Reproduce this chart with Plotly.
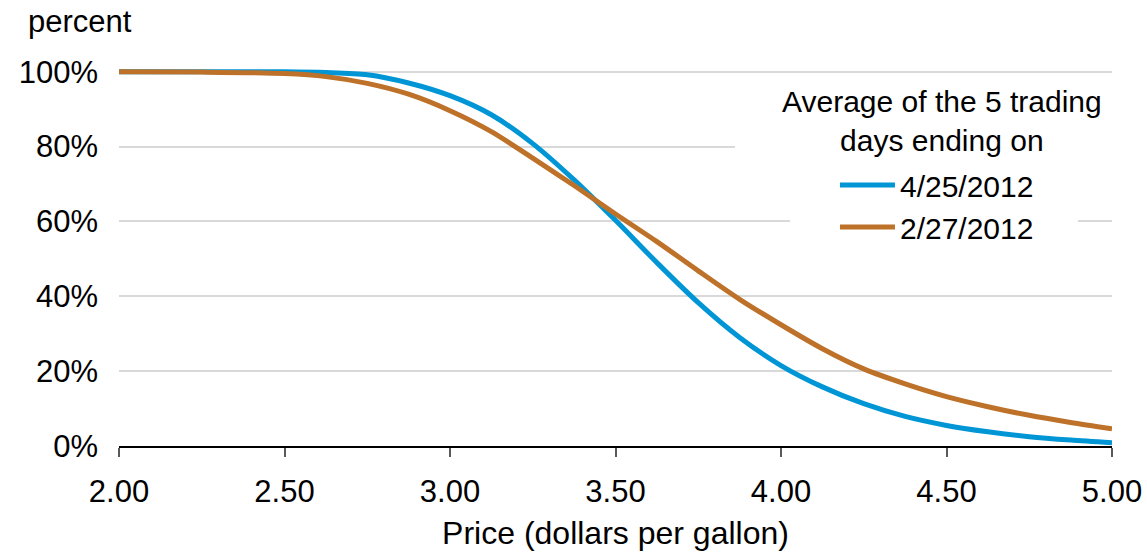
import plotly.graph_objects as go

price = [2.0, 2.25, 2.5, 2.625, 2.75, 2.875, 3.0, 3.125, 3.25, 3.375, 3.5, 3.625,
         3.75, 3.875, 4.0, 4.125, 4.25, 4.375, 4.5, 4.625, 4.75, 4.875, 5.0]
apr_2012 = [100, 100, 100, 99.8, 99.2, 97.0, 93.6, 88.5, 80.8, 71.1, 60.3, 49.0,
            38.3, 29.0, 21.5, 15.8, 11.3, 7.9, 5.5, 3.8, 2.5, 1.6, 0.9]
feb_2012 = [100, 99.9, 99.5, 98.7, 96.9, 94.0, 89.6, 84.0, 76.9, 69.6, 62.0, 54.6,
            46.8, 39.2, 32.4, 26.0, 20.6, 16.6, 13.2, 10.5, 8.2, 6.3, 4.6]
series_names = ["4/25/2012", "2/27/2012"]
x_ticks = [2.0, 2.5, 3.0, 3.5, 4.0, 4.5, 5.0]
x_labels = ["2.00", "2.50", "3.00", "3.50", "4.00", "4.50", "5.00"]
y_ticks = [0, 20, 40, 60, 80, 100]
y_labels = ["0%", "20%", "40%", "60%", "80%", "100%"]

FONT = "Liberation Sans, Arial, sans-serif"
BLUE = "#0096D6"
ORANGE = "#BD7129"

fig = go.Figure()
fig.add_trace(go.Scatter(x=price, y=apr_2012, mode="lines", name=series_names[0],
                         line=dict(color=BLUE, width=5, shape="spline", smoothing=0.8)))
fig.add_trace(go.Scatter(x=price, y=feb_2012, mode="lines", name=series_names[1],
                         line=dict(color=ORANGE, width=5, shape="spline", smoothing=0.8)))

# white patches hiding gridlines behind the legend (as in the reference)
fig.add_shape(type="rect", xref="x", yref="y", x0=3.861, x1=5.1, y0=78.5, y1=81.5,
              fillcolor="white", line_width=0, layer="between")
fig.add_shape(type="rect", xref="x", yref="y", x0=4.027, x1=4.897, y0=58.5, y1=61.5,
              fillcolor="white", line_width=0, layer="between")

fig.add_annotation(text="percent", xref="paper", yref="paper", x=-0.0937, y=1.1217,
                   xanchor="left", yanchor="middle", showarrow=False,
                   font=dict(size=31, color="black", family=FONT))
fig.add_annotation(text="Average of the 5 trading<br>days ending on", xref="paper", yref="paper",
                   x=0.8293, y=0.86, xanchor="center", yanchor="middle", showarrow=False,
                   align="center", font=dict(size=30, color="black", family=FONT))

fig.update_layout(
    width=1147, height=554,
    margin=dict(l=119, r=35, t=68, b=108),
    paper_bgcolor="white", plot_bgcolor="white",
    font=dict(family=FONT, size=31, color="black"),
    showlegend=True,
    legend=dict(x=0.721, y=0.759, xanchor="left", yanchor="top",
                bgcolor="rgba(0,0,0,0)", font=dict(size=30, color="black", family=FONT),
                itemwidth=55, tracegroupgap=0),
    xaxis=dict(range=[2, 5], tickvals=x_ticks, ticktext=x_labels,
               ticks="outside", ticklen=9, tickcolor="#595959", tickwidth=1.5,
               showline=True, linecolor="black", linewidth=1.5, automargin=False,
               showgrid=False, zeroline=False, ticklabelstandoff=8,
               title=dict(text="Price (dollars per gallon)", standoff=14,
                          font=dict(size=32, color="black", family=FONT)),
               tickfont=dict(size=31, color="black", family=FONT)),
    yaxis=dict(range=[0, 101], tickvals=y_ticks, ticktext=y_labels,
               showgrid=True, gridcolor="#d9d9d9", gridwidth=2, automargin=False,
               zeroline=False, showline=False, ticks="", ticklabelstandoff=20,
               tickfont=dict(size=31, color="black", family=FONT)),
)

fig.write_html("out.html", config={"displayModeBar": False},
               post_script="document.body.style.margin='0';")
